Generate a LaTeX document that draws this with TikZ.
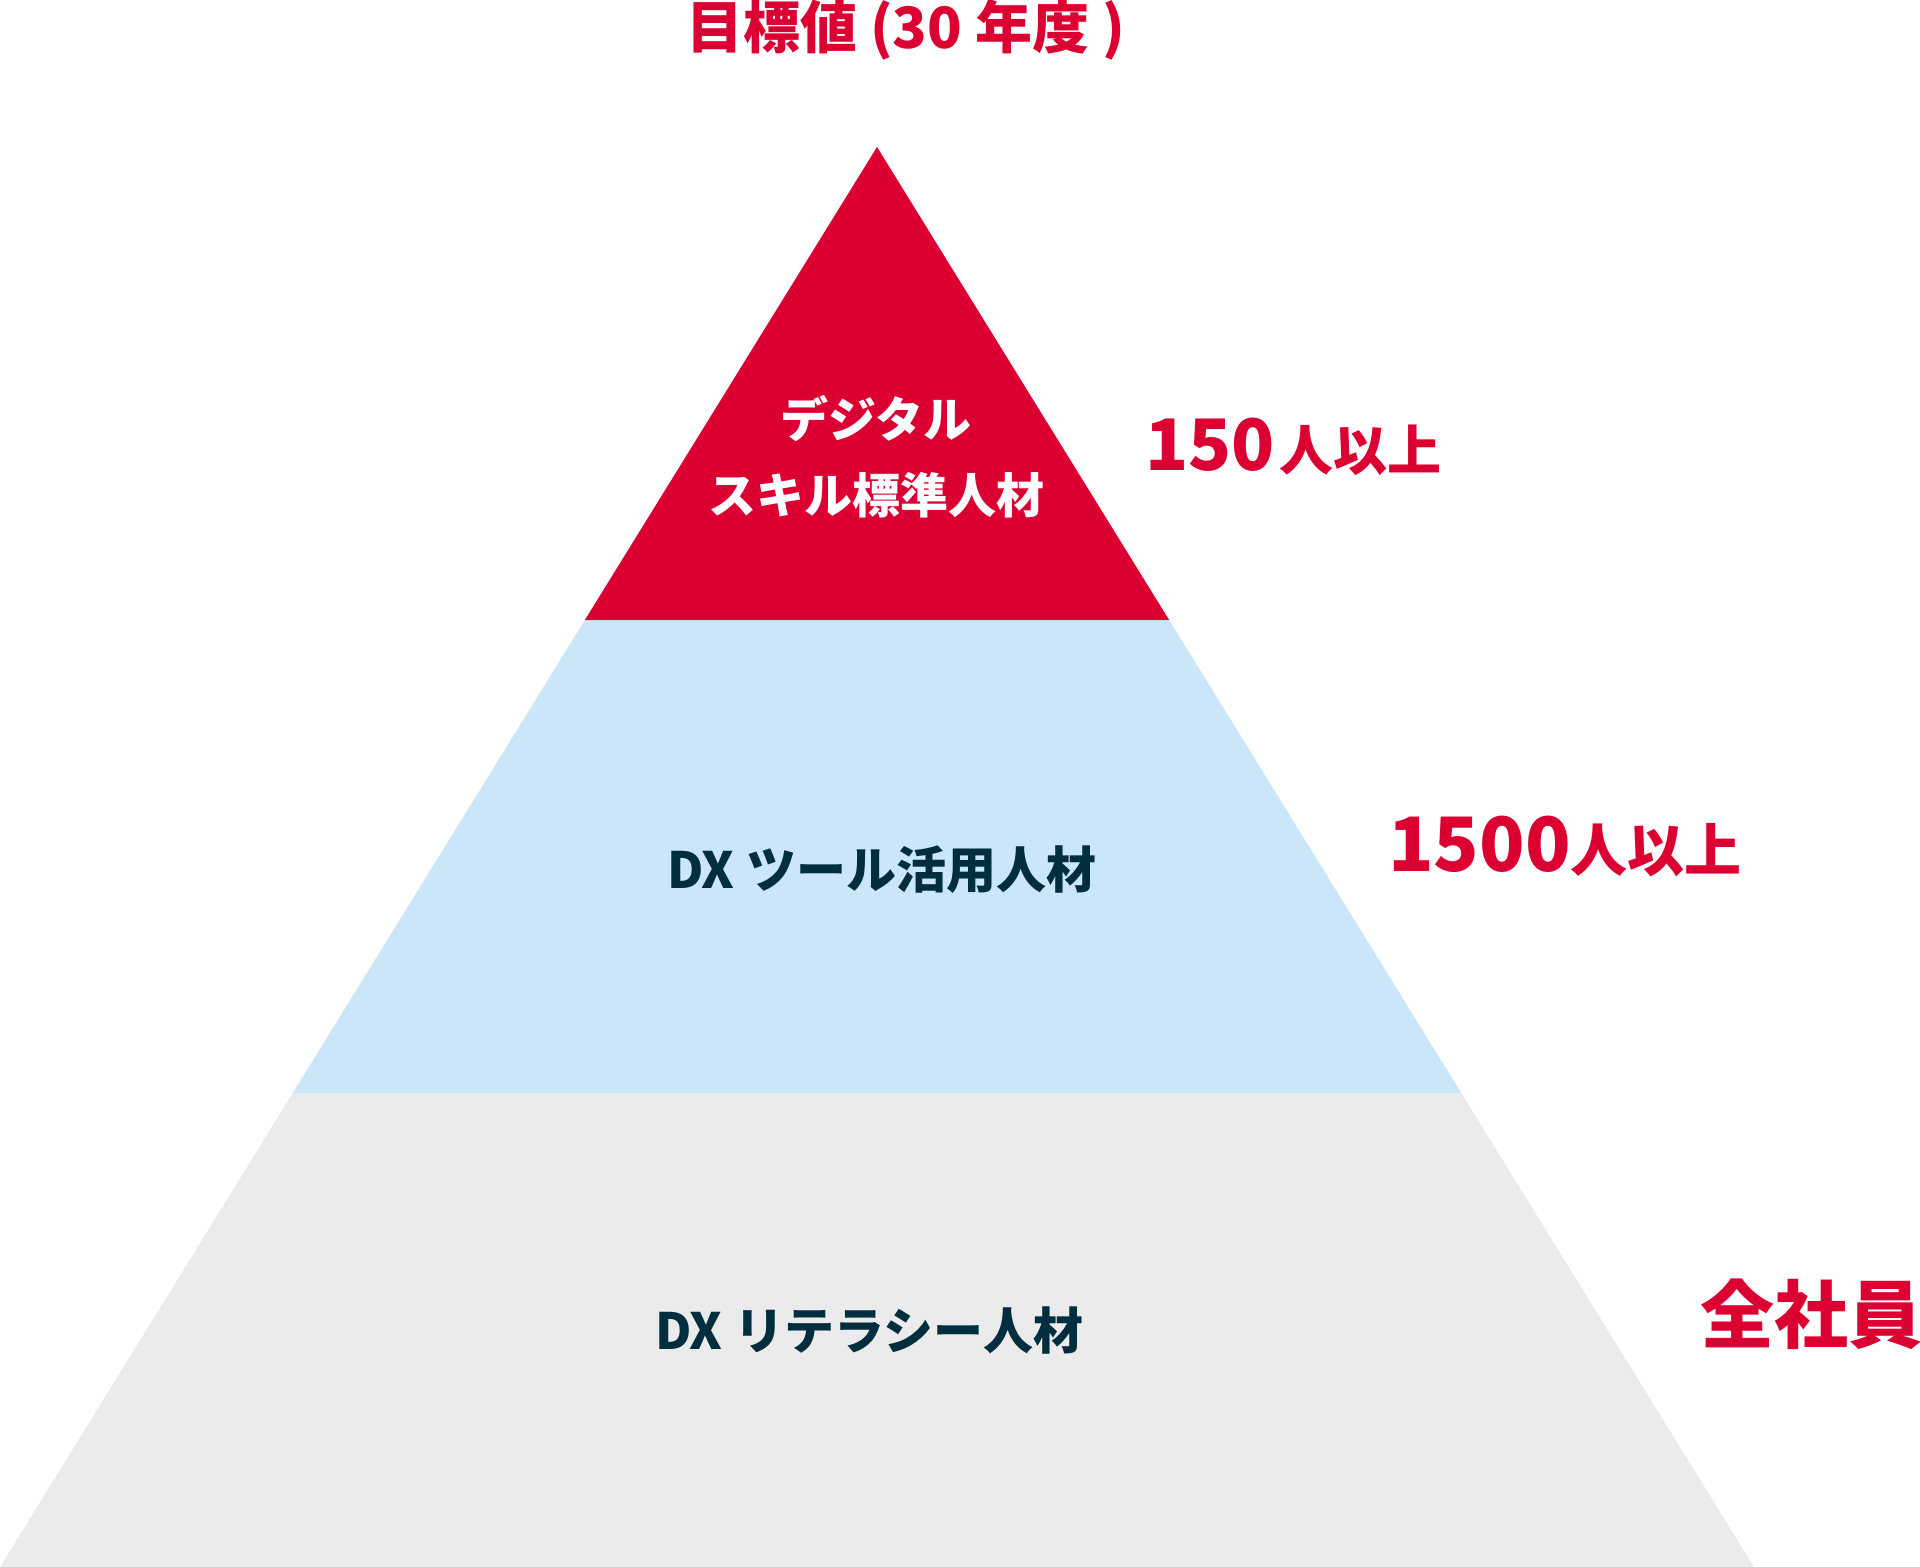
\documentclass[tikz,border=0pt]{standalone}
\usepackage{fontspec}
\usetikzlibrary{calc}
\setmainfont{Noto Sans CJK JP}
\definecolor{jred}{HTML}{DC0032}
\definecolor{jblue}{HTML}{CBE6F8}
\definecolor{jgray}{HTML}{EBEBEB}
\definecolor{jdark}{HTML}{002E3F}
\begin{document}
\begin{tikzpicture}[x=0.5pt,y=-0.5pt,
  lbl/.style={inner sep=0pt,outer sep=0pt,font=\bfseries},
  redlbl/.style={lbl,text=jred},
  darklbl/.style={lbl,text=jdark,font=\bfseries\fontsize{25}{30}\selectfont},
  whitelbl/.style={lbl,text=white,align=center,font=\bfseries\fontsize{24}{38}\selectfont}]
\useasboundingbox (0,0) rectangle (1920,1567);
% pyramid
\coordinate (apex) at (877,147);
\coordinate (bl) at (0,1567);
\coordinate (br) at (1754,1567);
\coordinate (l1) at ($(apex)!1/3!(bl)$);
\coordinate (r1) at ($(apex)!1/3!(br)$);
\coordinate (l2) at ($(apex)!2/3!(bl)$);
\coordinate (r2) at ($(apex)!2/3!(br)$);
\fill[jred] (apex) -- (r1) -- (l1) -- cycle;
\fill[jblue] (l1) -- (r1) -- (r2) -- (l2) -- cycle;
\fill[jgray] (l2) -- (r2) -- (br) -- (bl) -- cycle;
% title
\node[redlbl,anchor=west,font=\bfseries\fontsize{28.5}{30}\selectfont] (title) at (686,30) {目標値 (30 年度 )};
% band labels
\node[whitelbl] (top) at (876,457) {デジタル\\スキル標準人材};
\node[darklbl,anchor=west] (mid) at (667,870) {DX ツール活用人材};
\node[darklbl,anchor=west] (bot) at (655,1330) {DX リテラシー人材};
% right labels
\node[redlbl,anchor=west] (n150) at (1145,447) {\fontsize{35.5}{40}\selectfont 150\hspace{2.5pt}\fontsize{27}{30}\selectfont 人以上};
\node[redlbl,anchor=west] (n1500) at (1388,846) {\fontsize{37.5}{40}\selectfont 1500\fontsize{28.5}{30}\selectfont 人以上};
\node[redlbl,anchor=west,font=\bfseries\fontsize{37}{40}\selectfont] (all) at (1700,1314) {全社員};
\end{tikzpicture}
\end{document}
